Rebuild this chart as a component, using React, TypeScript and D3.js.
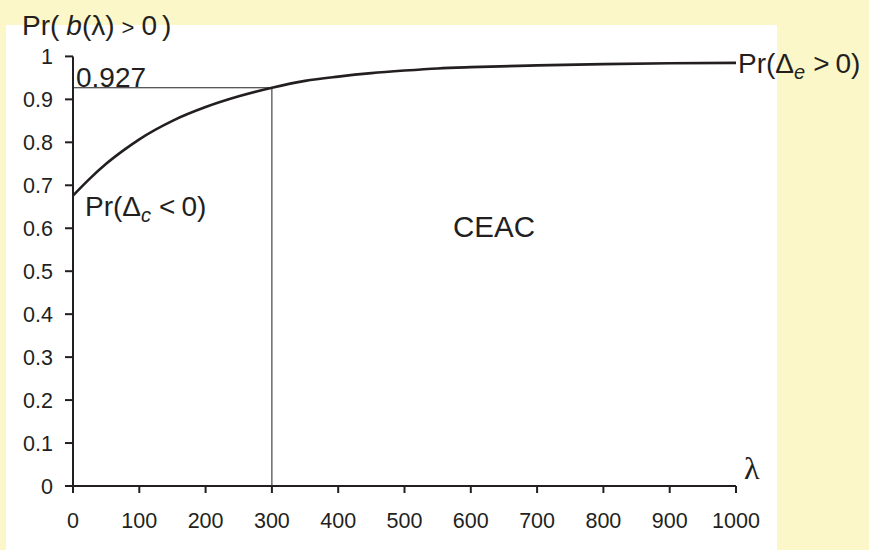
import React from "react";
import * as d3 from "d3";

// Willingness-to-pay thresholds (λ) and the probability that net benefit is positive
const lambdas = [0, 25, 50, 75, 100, 150, 200, 250, 300, 350, 400, 450, 500, 550, 600, 700, 800, 900, 1000];
const probs = [0.676, 0.715, 0.75, 0.78, 0.807, 0.85, 0.882, 0.907, 0.927, 0.943, 0.953, 0.961, 0.967, 0.972, 0.975, 0.979, 0.982, 0.984, 0.985];

const xTicks = [0, 100, 200, 300, 400, 500, 600, 700, 800, 900, 1000];
const yTicks = [0, 0.1, 0.2, 0.3, 0.4, 0.5, 0.6, 0.7, 0.8, 0.9, 1];

// Highlighted threshold and its probability
const markLambda = 300;
const markProb = 0.927;

const W = 869;
const H = 550;
const INK = "#231f20";
const FONT = "'Liberation Sans', Arial, Helvetica, sans-serif";

export default function App() {
  const x = d3.scaleLinear().domain([0, 1000]).range([73, 736]);
  const y = d3.scaleLinear().domain([0, 1]).range([486, 56.4]);

  const pts = lambdas.map((l, i) => [l, probs[i]] as [number, number]);
  const line = d3
    .line<[number, number]>()
    .x((d) => x(d[0]))
    .y((d) => y(d[1]))
    .curve(d3.curveMonotoneX);

  return (
    <svg
      width={W}
      height={H}
      style={{ position: "absolute", left: 0, top: 0, display: "block" }}
      fontFamily={FONT}
    >
      <rect x={0} y={0} width={W} height={H} fill="#fcf7c9" />
      <rect x={6} y={25} width={771} height={H - 25} fill="#ffffff" />

      {/* reference lines for the highlighted threshold */}
      <line x1={x(0)} x2={x(markLambda)} y1={y(markProb)} y2={y(markProb)} stroke={INK} strokeWidth={1} />
      <line x1={x(markLambda)} x2={x(markLambda)} y1={y(0)} y2={y(markProb)} stroke={INK} strokeWidth={1} />

      {/* axes */}
      <line x1={x(0)} x2={x(1000)} y1={y(0)} y2={y(0)} stroke={INK} strokeWidth={2} />
      <line x1={x(0)} x2={x(0)} y1={y(0)} y2={y(1)} stroke={INK} strokeWidth={2} />
      {xTicks.map((t) => (
        <g key={"x" + t}>
          <line x1={x(t)} x2={x(t)} y1={y(0)} y2={y(0) + 7} stroke={INK} strokeWidth={2} />
          <text x={x(t)} y={528} textAnchor="middle" fontSize={21.5} fill={INK}>
            {t}
          </text>
        </g>
      ))}
      {yTicks.map((t) => (
        <g key={"y" + t}>
          <line x1={x(0) - 8} x2={x(0)} y1={y(t)} y2={y(t)} stroke={INK} strokeWidth={2} />
          <text x={53} y={y(t)} dy="0.36em" textAnchor="end" fontSize={21.5} fill={INK}>
            {d3.format("~g")(t)}
          </text>
        </g>
      ))}

      {/* CEAC curve */}
      <path d={line(pts) ?? ""} fill="none" stroke={INK} strokeWidth={2.6} />

      {/* annotations */}
      <text x={76} y={87} fontSize={28} fill={INK}>
        {d3.format(".3f")(markProb)}
      </text>
      <text x={22} y={35} fontSize={28} fill={INK}>
        Pr(
        <tspan dx={7} fontStyle="italic">b</tspan>
        <tspan>(λ)</tspan>
        <tspan dx={7} fontSize={22}>&gt;</tspan>
        <tspan dx={7}>0</tspan>
        <tspan dx={5}>)</tspan>
      </text>
      <text x={738} y={73} fontSize={28} fill={INK}>
        Pr(Δ
        <tspan fontSize={20} fontStyle="italic" dy={6}>e</tspan>
        <tspan dy={-6} dx={8}>&gt;</tspan>
        <tspan dx={6}>0)</tspan>
      </text>
      <text x={85} y={216} fontSize={28} fill={INK}>
        Pr(Δ
        <tspan fontSize={20} fontStyle="italic" dy={6}>c</tspan>
        <tspan dy={-6} dx={8}>&lt;</tspan>
        <tspan dx={6}>0)</tspan>
      </text>
      <text x={494} y={237} textAnchor="middle" fontSize={29.5} fill={INK}>
        CEAC
      </text>
      <text x={744} y={479} fontSize={32} fontFamily="'Liberation Serif', 'Times New Roman', serif" fill={INK}>
        λ
      </text>
    </svg>
  );
}
